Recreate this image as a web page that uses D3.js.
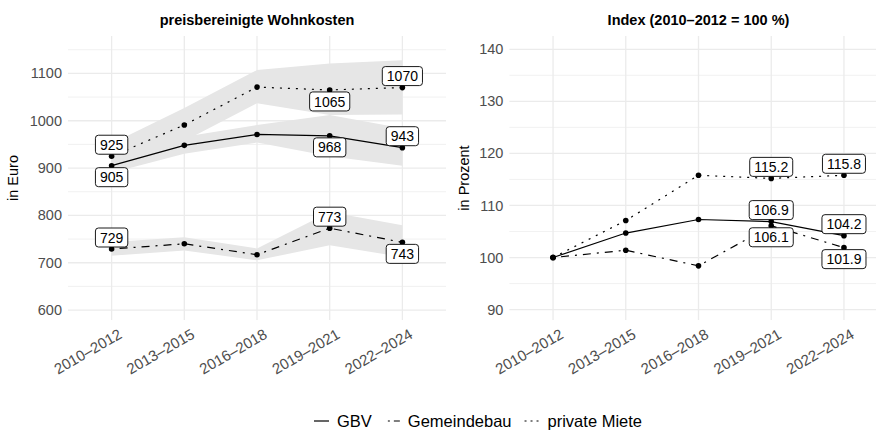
<!DOCTYPE html>
<html>
<head>
<meta charset="utf-8">
<script src="https://cdn.jsdelivr.net/npm/d3@7"></script>
<style>
  body { margin: 0; background: #fff; }
  svg { display: block; font-family: "Liberation Sans", Arial, sans-serif; }
</style>
</head>
<body>
<svg id="chart" width="876" height="431"></svg>
<script>
// Categories
var periods = ["2010–2012", "2013–2015", "2016–2018", "2019–2021", "2022–2024"];
var seriesNames = ["GBV", "Gemeindebau", "private Miete"];

// Left panel: price adjusted housing costs in euro
var gbvEuro = [905, 948, 971, 968, 943];
var gemEuro = [729, 740, 717, 773, 743];
var privEuro = [925, 991, 1071, 1065, 1070];

// Confidence ribbons (left panel)
var gbvLow = [890, 930, 954, 925, 905];
var gbvHigh = [920, 966, 991, 1012, 984];
var gemLow = [715, 726, 705, 737, 712];
var gemHigh = [744, 754, 730, 807, 779];
var privLow = [898, 957, 1037, 1012, 1013];
var privHigh = [952, 1027, 1107, 1121, 1128];

// Right panel: index (2010-2012 = 100)
var gbvIndex = [100, 104.7, 107.3, 106.9, 104.2];
var gemIndex = [100, 101.4, 98.4, 106.1, 101.9];
var privIndex = [100, 107.1, 115.8, 115.2, 115.8];

// Which points get a label (1 = above, -1 = below, 0 = none)
var gbvEuroSide = [-1, 0, 0, -1, 1];
var gemEuroSide = [1, 0, 0, 1, -1];
var privEuroSide = [1, 0, 0, -1, 1];
var gbvIndexSide = [0, 0, 0, 1, 1];
var gemIndexSide = [0, 0, 0, -1, -1];
var privIndexSide = [0, 0, 0, 1, 1];

// Axis ticks
var euroTicks = [600, 700, 800, 900, 1000, 1100];
var euroMinor = [650, 750, 850, 950, 1050, 1150];
var indexTicks = [90, 100, 110, 120, 130, 140];
var indexMinor = [95, 105, 115, 125, 135];

var svg = d3.select("#chart");
var dashes = ["none", "2,6,8,6", "2,6"];
var fontSize = 14.5;
var panelTop = 36, panelBottom = 320;

// Draw one facet panel
function drawPanel(opt) {
    var x = d3.scalePoint().domain(periods).range([opt.left, opt.right]).padding(0.6);
    var y = d3.scaleLinear().domain(opt.domain).range([panelBottom, panelTop]);
    var g = svg.append("g");

    // Grid
    g.selectAll(".minor").data(opt.minor).join("line")
        .attr("x1", opt.left).attr("x2", opt.right)
        .attr("y1", d => y(d)).attr("y2", d => y(d))
        .attr("stroke", "#ebebeb").attr("stroke-width", 0.7);
    g.selectAll(".major").data(opt.ticks).join("line")
        .attr("x1", opt.left).attr("x2", opt.right)
        .attr("y1", d => y(d)).attr("y2", d => y(d))
        .attr("stroke", "#ebebeb").attr("stroke-width", 1.3);
    g.selectAll(".vgrid").data(periods).join("line")
        .attr("x1", d => x(d)).attr("x2", d => x(d))
        .attr("y1", panelTop).attr("y2", panelBottom)
        .attr("stroke", "#ebebeb").attr("stroke-width", 1.3);

    // Y tick labels
    g.selectAll(".ytick").data(opt.ticks).join("text")
        .attr("x", opt.left - 6).attr("y", d => y(d))
        .attr("dy", "0.35em").attr("text-anchor", "end")
        .attr("fill", "#4d4d4d").attr("font-size", fontSize)
        .text(d => d);

    // X tick labels, rotated
    g.selectAll(".xtick").data(periods).join("text")
        .attr("transform", d => "translate(" + (x(d) + 6) + "," + 328 + ") rotate(-30)")
        .attr("dy", "0.71em").attr("text-anchor", "end")
        .attr("fill", "#4d4d4d").attr("font-size", 15)
        .text(d => d);

    // Titles
    g.append("text")
        .attr("x", (opt.left + opt.right) / 2).attr("y", 25)
        .attr("text-anchor", "middle").attr("font-weight", "bold")
        .attr("font-size", fontSize).text(opt.title);
    g.append("text")
        .attr("transform", "translate(" + opt.ytitleX + "," + (panelTop + panelBottom) / 2 + ") rotate(-90)")
        .attr("text-anchor", "middle").attr("font-size", fontSize)
        .text(opt.ytitle);

    // Ribbons
    if (opt.ribbons) {
        var area = d3.area()
            .x((d, i) => x(periods[i]))
            .y0(d => y(d[0])).y1(d => y(d[1]));
        opt.ribbons.forEach(r => {
            g.append("path")
                .datum(r[0].map((v, i) => [v, r[1][i]]))
                .attr("d", area)
                .attr("fill", "#e6e6e6");
        });
    }

    // Lines and points
    var line = d3.line().x((d, i) => x(periods[i])).y(d => y(d));
    opt.series.forEach((s, k) => {
        g.append("path").datum(s)
            .attr("d", line).attr("fill", "none")
            .attr("stroke", "black").attr("stroke-width", 1.2)
            .attr("stroke-dasharray", dashes[k]);
        g.selectAll(null).data(s).join("circle")
            .attr("cx", (d, i) => x(periods[i])).attr("cy", d => y(d))
            .attr("r", 2.8).attr("fill", "black");
    });

    // Value labels
    opt.series.forEach((s, k) => {
        s.forEach((v, i) => {
            var side = opt.sides[k][i];
            if (side == 0) return;
            var lab = g.append("g")
                .attr("transform", "translate(" + x(periods[i]) + "," + (y(v) - side * 11.5) + ")");
            var txt = lab.append("text")
                .attr("text-anchor", "middle").attr("dy", "0.36em")
                .attr("font-size", 14).text(opt.fmt(v));
            var w = txt.node().getComputedTextLength() + 9;
            lab.insert("rect", "text")
                .attr("x", -w / 2).attr("y", -9.5)
                .attr("width", w).attr("height", 19)
                .attr("rx", 3).attr("fill", "white")
                .attr("stroke", "black").attr("stroke-width", 0.9);
        });
    });
}

drawPanel({
    left: 68, right: 446, domain: [579, 1179],
    ticks: euroTicks, minor: euroMinor,
    title: "preisbereinigte Wohnkosten", ytitle: "in Euro", ytitleX: 18,
    series: [gbvEuro, gemEuro, privEuro],
    sides: [gbvEuroSide, gemEuroSide, privEuroSide],
    ribbons: [[gbvLow, gbvHigh], [gemLow, gemHigh], [privLow, privHigh]],
    fmt: d3.format("d")
});

drawPanel({
    left: 509.4, right: 887.6, domain: [88, 142.55],
    ticks: indexTicks, minor: indexMinor,
    title: "Index (2010–2012 = 100 %)", ytitle: "in Prozent", ytitleX: 469,
    series: [gbvIndex, gemIndex, privIndex],
    sides: [gbvIndexSide, gemIndexSide, privIndexSide],
    ribbons: null,
    fmt: d3.format(".1f")
});

// Legend
var legend = svg.append("g");
var legendDash = ["none", "0,3,2,4,8,20", "2,4"];
var lx = 0;
seriesNames.forEach((name, k) => {
    legend.append("line")
        .attr("x1", lx).attr("x2", lx + 15).attr("y1", 0).attr("y2", 0)
        .attr("stroke", "black").attr("stroke-width", 1.2)
        .attr("stroke-dasharray", legendDash[k]);
    var t = legend.append("text")
        .attr("x", lx + 23).attr("y", 0).attr("dy", "0.36em")
        .attr("font-size", 16.5).text(name);
    lx += 23 + t.node().getComputedTextLength() + 13;
});
legend.attr("transform", "translate(" + (478 - (lx - 13) / 2) + ",421)");
</script>
</body>
</html>
